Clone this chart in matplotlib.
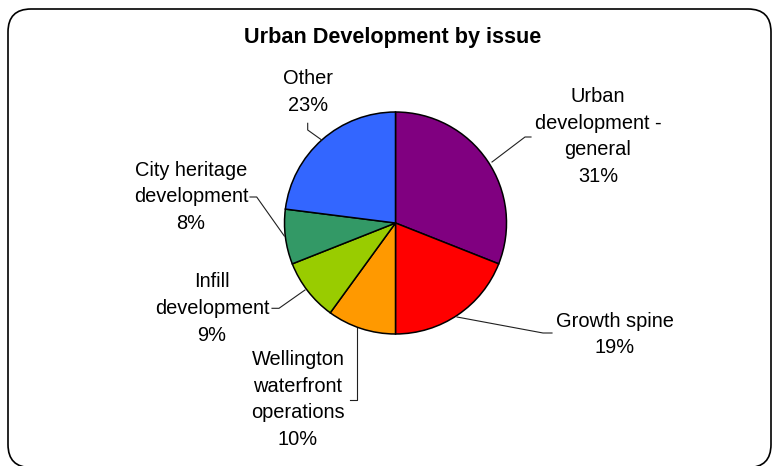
import matplotlib
matplotlib.use("Agg")
import matplotlib.pyplot as plt
from matplotlib.patches import FancyBboxPatch

plt.rcParams['font.family'] = ['Liberation Sans', 'DejaVu Sans']

# ---- data ----
title = "Urban Development by issue"
categories = ["Urban\ndevelopment -\ngeneral", "Growth spine", "Wellington\nwaterfront\noperations",
              "Infill\ndevelopment", "City heritage\ndevelopment", "Other"]
values = [31, 19, 10, 9, 8, 23]
colors = ["#800080", "#FF0000", "#FF9900", "#99CC00", "#339966", "#3366FF"]

W, H = 773, 466
fig = plt.figure(figsize=(W / 100, H / 100), dpi=100)
ax = fig.add_axes([0, 0, 1, 1])


def P(x, y):
    return (x, H - y)


# rounded border
border = FancyBboxPatch((8, H - 467.5), 763, 458.5,
                        boxstyle="round,pad=0,rounding_size=23",
                        facecolor="white", edgecolor="black", linewidth=1.2, zorder=0)
ax.add_patch(border)

cx, cy, r = 395.5, 223, 111
ax.pie(values, colors=colors, startangle=90, counterclock=False,
       center=P(cx, cy), radius=r, frame=True,
       wedgeprops=dict(edgecolor="black", linewidth=1.1))

ax.set_xlim(0, W)
ax.set_ylim(0, H)
ax.set_aspect('auto')
ax.axis('off')

ax.text(*P(393, 38), title, ha='center', va='center', fontsize=15.6, fontweight='bold')

# label layout (text centre, leader polyline)
label_pos = [(598, 136.5), (615, 334.5), (298, 399.5), (212, 308.3), (191, 197), (308, 92)]
leaders = [
    [(531, 137), (525, 137), (492, 162)],
    [(457, 317), (543, 333), (552, 333)],
    [(357, 328), (357, 400), (350, 400)],
    [(305, 290), (279, 308.3), (272, 308.3)],
    [(284.3, 236), (256.7, 197), (250, 197)],
    [(321.7, 140), (307.7, 130), (307.7, 123.3)],
]
for cat, v, pos, ld in zip(categories, values, label_pos, leaders):
    ax.text(*P(*pos), f"{cat}\n{v}%", ha='center', va='center', fontsize=14.4,
            linespacing=1.52, color='black')
    xs = [p[0] for p in ld]
    ys = [H - p[1] for p in ld]
    ax.plot(xs, ys, color='#202020', linewidth=0.8)

fig.savefig("out.png", dpi=100)
